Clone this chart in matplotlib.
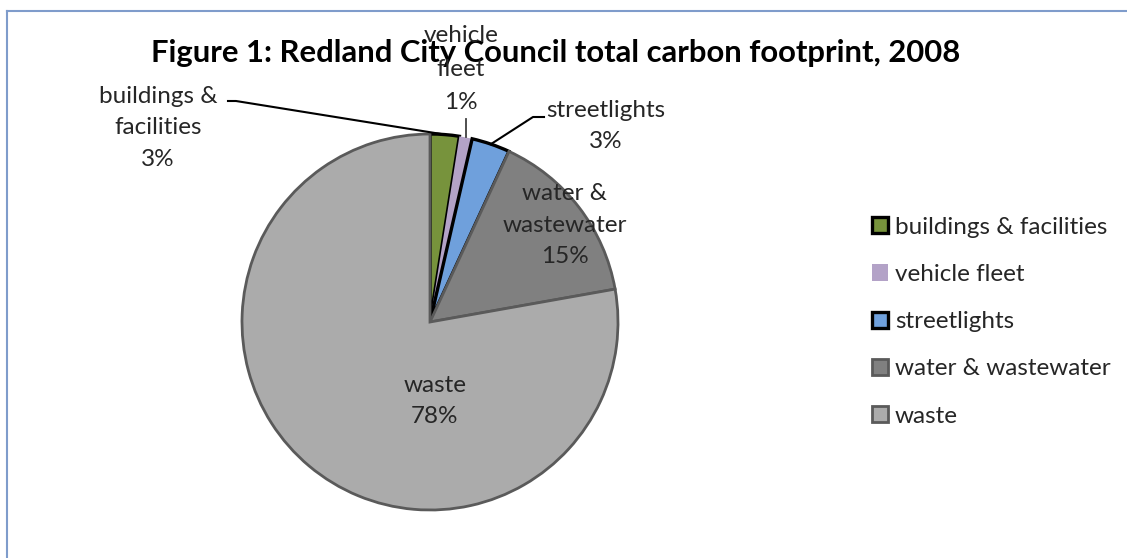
import numpy as np
import matplotlib.pyplot as plt

# Données du graphique
categories = ["buildings & facilities", "vehicle fleet", "streetlights",
              "water & wastewater", "waste"]
valeurs = [2.5, 1.1, 3.3, 15.3, 77.8]
etiquettes = ["buildings &\nfacilities\n3%", "vehicle\nfleet\n1%", "streetlights\n3%",
              "water &\nwastewater\n15%", "waste\n78%"]
couleurs = ["#77933C", "#B3A2C7", "#6FA0DC", "#808080", "#ABABAB"]
bords = ["black", "none", "black", "#5A5A5A", "#5A5A5A"]
epaisseurs = [2.4, 0, 2.4, 2.0, 2.0]

W, H = 1127, 558
plt.rcParams['font.family'] = ['Lato', 'DejaVu Sans']

fig = plt.figure(figsize=(W / 100, H / 100), dpi=100)
ax = fig.add_axes([0, 0, 1, 1])

# Cadre du graphique
ax.plot([7, 7], [0, H - 11], color="#7F9CCB", lw=1.5)
ax.plot([7, W], [H - 11, H - 11], color="#7F9CCB", lw=1.5)

cx, cy, R = 430, H - 322, 188
wedges, _ = ax.pie(valeurs, colors=couleurs, startangle=90, counterclock=False,
                   center=(cx, cy), radius=R, frame=True)
for w, ec, lw in zip(wedges, bords, epaisseurs):
    w.set_edgecolor(ec)
    w.set_linewidth(lw)
ax.set_xlim(0, W)
ax.set_ylim(0, H)
ax.set_aspect('equal')
ax.axis('off')

# Titre
ax.text(556, H - 53, "Figure 1: Redland City Council total carbon footprint, 2008",
        ha='center', va='center', fontsize=22.3, fontweight='bold', color='black')

fs = 17.5
col_txt = "#262626"

def bord_pie(w):
    a = np.deg2rad((w.theta1 + w.theta2) / 2)
    return cx + R * np.cos(a), cy + R * np.sin(a)

# Étiquettes avec lignes de rappel
ax.text(158, H - 128, etiquettes[0], ha='center', va='center', fontsize=fs,
        color=col_txt, linespacing=1.6)
x0, y0 = bord_pie(wedges[0])
ax.plot([228, 236, x0], [H - 101, H - 101, y0], color='black', lw=1.5)

ax.text(461, H - 69, etiquettes[1], ha='center', va='center', fontsize=fs,
        color=col_txt, linespacing=1.75)
x1, y1 = bord_pie(wedges[1])
ax.plot([x1, x1], [H - 119, y1], color='#404040', lw=1.3)

ax.text(606, H - 126, etiquettes[2], ha='center', va='center', fontsize=fs,
        color=col_txt, linespacing=1.6)
x2, y2 = bord_pie(wedges[2])
ax.plot([544, 533, x2], [H - 117, H - 117, y2], color='black', lw=1.5)

ax.text(565, H - 225, etiquettes[3], ha='center', va='center', fontsize=fs,
        color=col_txt, linespacing=1.6)
ax.text(435, H - 401, etiquettes[4], ha='center', va='center', fontsize=fs,
        color=col_txt, linespacing=1.6)

# Légende
leg = ax.legend(wedges, categories, loc='upper left', bbox_to_anchor=(862 / W, 1 - 207 / H),
                frameon=False, fontsize=fs, handlelength=0.65, handleheight=0.65,
                handletextpad=0.3, labelspacing=1.08, borderaxespad=0)
for t in leg.get_texts():
    t.set_color(col_txt)

fig.savefig("out.png", dpi=100)
